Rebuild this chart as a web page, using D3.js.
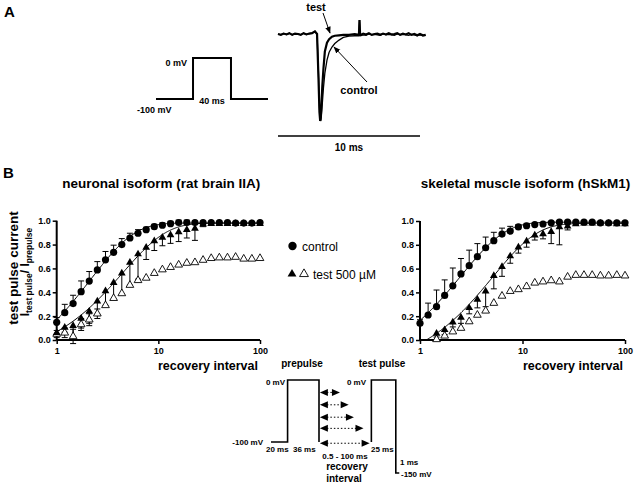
<!DOCTYPE html>
<html><head><meta charset="utf-8">
<script src="https://cdn.jsdelivr.net/npm/d3@7"></script>
<style>
body{margin:0;background:#fff}
svg{display:block}
text{font-family:"Liberation Sans",Arial,sans-serif;fill:#000}
</style>
</head><body>
<svg id="c" width="640" height="484"></svg>
<script>
// ---------------- DATA ----------------
const intervals = [1,1.2,1.45,1.74,2.09,2.51,3.02,3.63,4.37,5.25,6.31,7.59,9.12,10.96,13.18,15.85,19.05,22.91,27.54,33.11,39.81,47.86,57.54,69.18,83.18,100];

const brainControl      = [0.148,0.229,0.305,0.405,0.494,0.587,0.672,0.735,0.80,0.855,0.895,0.925,0.95,0.962,0.975,0.985,0.985,0.985,0.985,0.985,0.985,0.985,0.98,0.98,0.98,0.985];
const brainControlErr   = [0.04,0.07,0.07,0.09,0.08,0.07,0.07,0.06,0.05,0.04,0.03,0.02,0.02,0.02,0.02,0.02,0.02,0.01,0.01,0,0,0,0,0,0,0];
const brainTestFilled   = [0.06,0.105,0.12,0.18,0.24,0.325,0.41,0.48,0.56,0.65,0.72,0.775,0.83,0.86,0.88,0.905,0.925,0.935,0.97,0.975,0.975,0.975,0.975,0.975,0.975,0.975];
const brainTestFilledErr= [0.02,0.04,0.10,0.08,0.10,0.11,0.12,0.14,0.18,0.19,0.21,0.10,0.08,0.07,0.07,0.08,0.07,0.10,0.02,0,0,0,0,0,0,0];
const brainTestOpen     = [0.05,0.06,0.03,0.13,0.17,0.22,0.29,0.35,0.39,0.46,0.50,0.52,0.56,0.59,0.61,0.63,0.645,0.65,0.67,0.685,0.69,0.69,0.695,0.68,0.68,0.685];
const brainTestOpenErr  = [0.03,0.04,0.06,0.05,0.05,0.04,0,0,0,0,0,0,0,0,0,0,0,0,0,0,0,0,0,0,0,0];

const muscleControl      = [0.14,0.21,0.28,0.375,0.455,0.555,0.625,0.70,0.775,0.835,0.89,0.915,0.95,0.96,0.97,0.975,0.985,0.99,0.99,0.99,0.99,0.99,0.985,0.985,0.985,0.985];
const muscleControlErr   = [0.03,0.10,0.14,0.13,0.15,0.13,0.13,0.11,0.09,0.07,0.05,0.04,0.02,0.02,0.01,0.01,0.01,0,0,0,0,0,0,0,0,0];
const muscleTestFilled   = [null,null,0.055,0.085,0.15,0.19,0.27,0.34,0.41,0.54,0.615,0.705,0.78,0.83,0.88,0.89,0.91,0.95,0.955,0.975,0.98,0.98,0.98,0.98,0.975,0.975];
const muscleTestFilledErr= [0,0,0.03,0.04,0.04,0.05,0.05,0.07,0.13,0.11,0.08,0.06,0.05,0.05,0.04,0.04,0.10,0.15,0.03,0,0,0,0,0,0,0];
const muscleTestOpen     = [null,null,0.005,0.035,0.07,0.10,0.155,0.21,0.245,0.31,0.37,0.41,0.425,0.45,0.48,0.49,0.50,0.49,0.53,0.545,0.545,0.545,0.54,0.54,0.545,0.54];

// exponential recovery fits: y = A * (1 - exp(-(t - t0)/tau))
const brainControlFit  = {A:0.98, t0:0.59, tau:2.15};
const brainTestFit     = {A:0.98, t0:0.67, tau:4.44};
const muscleControlFit = {A:0.99, t0:0.545, tau:2.5};
const muscleTestFit    = {A:0.98, t0:1.15, tau:5.12};

const yTicks = [0,0.2,0.4,0.6,0.8,1.0];
const xTicks = [1,10,100];

// Panel A: voltage step and current traces
const stepTime    = [-39,0,0,40,40,79];
const stepVoltage = [-100,-100,0,0,-100,-100];

const traceTime    = [0,0.2,0.4,0.6,0.8,1.0,1.2,1.4,1.6,1.8,2.0,2.2,2.4,2.6,2.75,2.85,2.92,2.97,3.0,3.05,3.12,3.2,3.3,3.45,3.6,3.8,4.0,4.3,4.6,5.0,5.4,5.7,5.74,5.78,5.82,6.0,6.2,6.4,6.6,6.8,7.0,7.2,7.4,7.6,7.8,8.0,8.2,8.4,8.6,8.8,9.0,9.2,9.4,9.6,9.8,10.0,10.2,10.4];
const traceTest    = [0,-0.01,0.005,-0.005,0.01,-0.01,0.005,0,-0.01,0.01,-0.005,0.005,0.01,0.03,0.0,-0.5,-0.9,-1.0,-0.98,-0.85,-0.6,-0.4,-0.2,-0.1,-0.06,-0.03,-0.02,-0.015,-0.01,-0.01,0,-0.01,0.16,0,-0.01,0.005,-0.005,0.01,-0.01,0,0.005,-0.01,0.005,-0.005,0.01,-0.005,0,0.01,-0.01,0.005,-0.005,0.01,-0.01,0,-0.015,0.0,-0.015,-0.01];
const traceControl = [0,-0.01,0.005,-0.005,0.01,-0.01,0.005,0,-0.01,0.01,-0.005,0.005,0.01,0.03,0.0,-0.45,-0.85,-0.97,-1.0,-0.95,-0.8,-0.62,-0.45,-0.3,-0.21,-0.15,-0.11,-0.07,-0.04,-0.025,-0.02,-0.02,0.16,-0.01,-0.02,-0.01,-0.015,0,-0.01,-0.005,-0.01,-0.015,0,-0.01,-0.005,-0.01,-0.015,0,-0.01,-0.005,-0.01,-0.015,-0.005,-0.01,-0.02,-0.01,-0.02,-0.015];

// Protocol (schematic)
const preTime     = [0,19,19,55,55];
const preVoltage  = [-100,-100,0,0,-100];
const testTime    = [115,115,143,143,147];
const testVoltage = [-100,0,0,-150,-150];
const arrowLevels = [-20,-40,-60,-78,-102];
const arrowEnds   = [79,89,95,106,113];

// ---------------- DRAW ----------------
const svg = d3.select("#c");

function txt(x,y,s,opt={}){
  const t = svg.append("text").attr("x",x).attr("y",y).text(s)
    .attr("font-size",opt.size||10).attr("font-weight",opt.weight||"bold")
    .attr("text-anchor",opt.anchor||"start");
  if(opt.family) t.attr("font-family",opt.family);
  return t;
}

// Panel letters
txt(4,17,"A",{size:15,family:"Liberation Serif, Times New Roman, serif"});
txt(3,178,"B",{size:15,family:"Liberation Serif, Times New Roman, serif"});

// --- Panel A voltage step
const sx = d3.scaleLinear().domain([-39,79]).range([156,268]);
const sy = d3.scaleLinear().domain([-100,0]).range([99,58]);
svg.append("path")
  .attr("d", d3.line().x((d,i)=>sx(stepTime[i])).y(d=>sy(d))(stepVoltage))
  .attr("fill","none").attr("stroke","#000").attr("stroke-width",2);
txt(187,66,"0 mV",{size:9,anchor:"end"});
txt(137,113,"-100 mV",{size:9});
txt(212,104,"40 ms",{size:9,anchor:"middle"});

// --- Panel A current traces
const tx = d3.scaleLinear().domain([0,10]).range([278,420]);
const ty = d3.scaleLinear().domain([-1,0]).range([121,34]);
const trLine = arr => d3.line().x((d,i)=>tx(traceTime[i])).y(d=>ty(d))(arr);
svg.append("path").attr("d",trLine(traceControl)).attr("fill","none").attr("stroke","#000").attr("stroke-width",1.3);
svg.append("path").attr("d",trLine(traceTest)).attr("fill","none").attr("stroke","#000").attr("stroke-width",2.2);
// scale bar 10 ms
svg.append("line").attr("x1",tx(0)).attr("x2",tx(10)).attr("y1",136).attr("y2",136).attr("stroke","#000").attr("stroke-width",1.5);
txt(349,151,"10 ms",{size:10,anchor:"middle"});
// labels & arrows
svg.append("defs").html('<marker id="ah" viewBox="0 0 10 10" refX="9" refY="5" markerWidth="7" markerHeight="7" orient="auto"><path d="M0,1 L10,5 L0,9 z" fill="#000"/></marker>');
txt(316,11,"test",{size:11,anchor:"middle"});
svg.append("line").attr("x1",323).attr("y1",13).attr("x2",330).attr("y2",33).attr("stroke","#000").attr("stroke-width",1).attr("marker-end","url(#ah)");
txt(359,94,"control",{size:11,anchor:"middle"});
svg.append("line").attr("x1",367).attr("y1",82).attr("x2",334).attr("y2",47).attr("stroke","#000").attr("stroke-width",1).attr("marker-end","url(#ah)");

// --- Panel B plots
function plot(cfg){
  const x = d3.scaleLog().domain([1,100]).range(cfg.xr);
  const y = d3.scaleLinear().domain([0,1]).range(cfg.yr);
  const g = svg.append("g");
  const ax = g.append("g").attr("transform",`translate(0,${cfg.yr[0]})`)
    .call(d3.axisBottom(x).tickValues(xTicks).tickFormat(d3.format("d")).tickSize(4).tickPadding(4));
  const ay = g.append("g").attr("transform",`translate(${cfg.xr[0]},0)`)
    .call(d3.axisLeft(y).tickValues(yTicks).tickFormat(d3.format(".1f")).tickSize(4).tickPadding(2));
  [ax,ay].forEach(a=>{
    a.select(".domain").attr("stroke-width",2).attr("stroke","#000");
    a.selectAll(".tick line").attr("stroke-width",1.5);
    a.selectAll(".tick text").attr("font-size",9).attr("font-weight","bold").attr("font-family","Liberation Sans, Arial, sans-serif");
  });
  ax.select(".domain").attr("d",`M${cfg.xr[0]},0H${cfg.xr[1]}`);
  ay.select(".domain").attr("d",`M0,${cfg.yr[0]}V${cfg.yr[1]}`);

  const fitLine = f => {
    const pts = d3.range(0,201).map(k=>Math.pow(10,k/100)).filter(t=>t>=f.t0)
      .map(t=>[t, f.A*(1-Math.exp(-(t-f.t0)/f.tau))]);
    return d3.line().x(d=>x(d[0])).y(d=>y(d[1]))(pts);
  };
  [cfg.cFit,cfg.tFit].forEach(f=>{
    g.append("path").attr("d",fitLine(f)).attr("fill","none").attr("stroke","#000").attr("stroke-width",1);
  });

  const cap = 3;
  function bars(vals,errs,dir){
    vals.forEach((v,i)=>{
      if(v==null||!errs[i]) return;
      const xi = x(intervals[i]);
      const ends = dir==="both" ? [v-errs[i],v+errs[i]] : [v, v+dir*errs[i]];
      g.append("line").attr("x1",xi).attr("x2",xi).attr("y1",y(ends[0])).attr("y2",y(ends[1])).attr("stroke","#000").attr("stroke-width",1);
      const capsAt = dir==="both" ? ends : [ends[1]];
      capsAt.forEach(e=>g.append("line").attr("x1",xi-cap).attr("x2",xi+cap).attr("y1",y(e)).attr("y2",y(e)).attr("stroke","#000").attr("stroke-width",1));
    });
  }
  bars(cfg.control,cfg.controlErr,1);
  bars(cfg.filled,cfg.filledErr,-1);
  if(cfg.openErr) bars(cfg.open,cfg.openErr,"both");

  const tri = d3.symbol().type(d3.symbolTriangle).size(26);
  cfg.open.forEach((v,i)=>{ if(v==null) return;
    g.append("path").attr("d",tri()).attr("transform",`translate(${x(intervals[i])},${y(v)})`)
      .attr("fill","#fff").attr("stroke","#000").attr("stroke-width",0.9);
  });
  cfg.filled.forEach((v,i)=>{ if(v==null) return;
    g.append("path").attr("d",tri()).attr("transform",`translate(${x(intervals[i])},${y(v)})`).attr("fill","#000");
  });
  cfg.control.forEach((v,i)=>{
    g.append("circle").attr("cx",x(intervals[i])).attr("cy",y(v)).attr("r",3.6).attr("fill","#000");
  });

  txt((cfg.xr[0]+cfg.xr[1])/2+3, 188, cfg.title, {size:13.5,anchor:"middle"});
  txt(cfg.xr[1]-2, 370, "recovery interval", {size:12.5,anchor:"end"});
}

plot({xr:[56.7,260],yr:[340,220.7],title:"neuronal isoform (rat brain IIA)",
  control:brainControl,controlErr:brainControlErr,filled:brainTestFilled,filledErr:brainTestFilledErr,
  open:brainTestOpen,openErr:brainTestOpenErr,cFit:brainControlFit,tFit:brainTestFit});
plot({xr:[420,625],yr:[340,221],title:"skeletal muscle isoform (hSkM1)",
  control:muscleControl,controlErr:muscleControlErr,filled:muscleTestFilled,filledErr:muscleTestFilledErr,
  open:muscleTestOpen,openErr:null,cFit:muscleControlFit,tFit:muscleTestFit});

// y axis label (left plot)
svg.append("text").attr("transform","translate(18,268) rotate(-90)")
  .attr("text-anchor","middle").attr("font-size",13.5).attr("font-weight","bold").text("test pulse current");
const yl2 = svg.append("text").attr("transform","translate(29,272) rotate(-90)")
  .attr("text-anchor","middle").attr("font-size",12).attr("font-weight","bold");
yl2.append("tspan").text("I");
yl2.append("tspan").attr("font-size",8.5).attr("dy",3).text("test pulse");
yl2.append("tspan").attr("dy",-3).text("/ I");
yl2.append("tspan").attr("font-size",8.5).attr("dy",3).text("prepulse");

// legend
svg.append("circle").attr("cx",292.5).attr("cy",246).attr("r",4.2).attr("fill","#000");
txt(302,250.5,"control",{size:12,weight:"normal"});
const ltri = d3.symbol().type(d3.symbolTriangle).size(34);
svg.append("path").attr("d",ltri()).attr("transform","translate(292,274)").attr("fill","#000");
svg.append("path").attr("d",ltri()).attr("transform","translate(304,274)").attr("fill","#fff").attr("stroke","#000").attr("stroke-width",0.9);
txt(313,278.5,"test 500 \u00B5M",{size:12,weight:"normal"});

// --- Protocol diagram
const px = d3.scaleLinear().domain([0,55]).range([271,319]);
const py = d3.scaleLinear().domain([-150,0]).range([473,380]);
const pLine = (tt,vv) => d3.line().x((d,i)=>px(tt[i])).y(d=>py(d))(vv);
svg.append("path").attr("d",pLine(preTime,preVoltage)).attr("fill","none").attr("stroke","#000").attr("stroke-width",1.6);
svg.append("path").attr("d",pLine(testTime,testVoltage)).attr("fill","none").attr("stroke","#000").attr("stroke-width",1.6);

arrowLevels.forEach((lv,i)=>{
  const yy = py(lv), x0 = px(56), x1 = px(arrowEnds[i]);
  svg.append("line").attr("x1",x0+7).attr("x2",x1-7).attr("y1",yy).attr("y2",yy)
    .attr("stroke","#000").attr("stroke-width",1).attr("stroke-dasharray","1.5,2");
  svg.append("path").attr("d",`M${x0},${yy}L${x0+8},${yy-3.5}L${x0+8},${yy+3.5}Z`).attr("fill","#000");
  svg.append("path").attr("d",`M${x1},${yy}L${x1-8},${yy-3.5}L${x1-8},${yy+3.5}Z`).attr("fill","#000");
});

txt(302,367,"prepulse",{size:10,anchor:"middle"});
txt(382,367,"test pulse",{size:10,anchor:"middle"});
txt(285,385,"0 mV",{size:8,anchor:"end"});
txt(366,385,"0 mV",{size:8,anchor:"end"});
txt(263,445,"-100 mV",{size:8,anchor:"end"});
txt(266,452,"20 ms",{size:8});
txt(293,452,"36 ms",{size:8});
txt(345,459,"0.5 - 100 ms",{size:8,anchor:"middle"});
txt(371,452,"25 ms",{size:8});
txt(400,465,"1 ms",{size:8});
txt(401,477,"-150 mV",{size:8});
txt(347,469.5,"recovery",{size:10,anchor:"middle"});
txt(344,481.5,"interval",{size:10,anchor:"middle"});
</script>
</body></html>
